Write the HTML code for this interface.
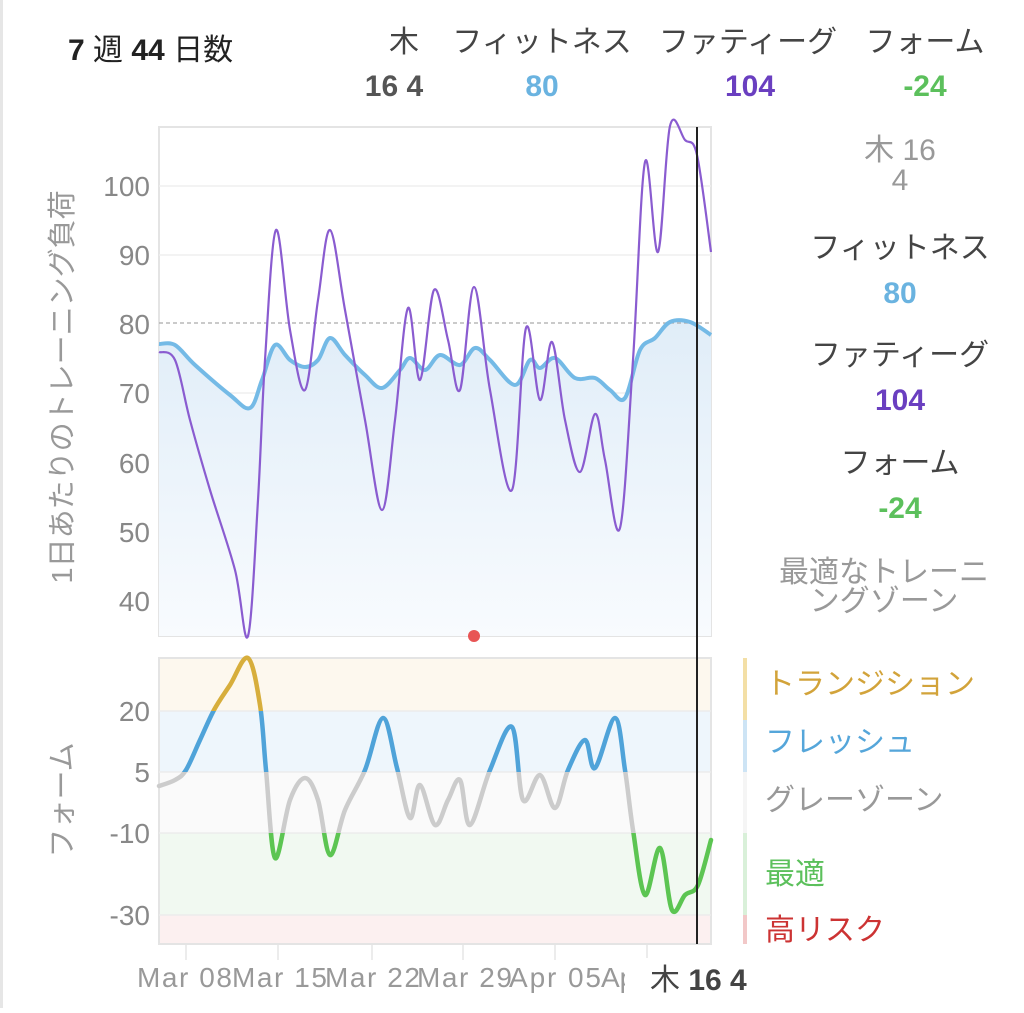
<!DOCTYPE html>
<html><head><meta charset="utf-8"><style>
body{margin:0;background:#fff;width:1024px;height:1008px;overflow:hidden;font-family:"Liberation Sans","Noto Sans CJK JP",sans-serif}
svg text{font-family:"Liberation Sans","Noto Sans CJK JP",sans-serif}
</style></head><body>
<svg id="s" width="1024" height="1008" xmlns="http://www.w3.org/2000/svg">
<rect x="0" y="0" width="3" height="1008" fill="#e6e6e6"/>
<text x="68" y="60" font-size="30" fill="#222"><tspan font-weight="bold">7</tspan> 週 <tspan font-weight="bold">44</tspan> 日数</text>
<g font-size="30" text-anchor="middle">
<text x="404" y="52" fill="#444">木</text><text x="394" y="96" fill="#555" font-weight="bold">16 4</text>
<text x="542" y="52" fill="#444">フィットネス</text><text x="542" y="96" fill="#6ab3e0" font-weight="bold">80</text>
<text x="748" y="52" fill="#444">ファティーグ</text><text x="750" y="96" fill="#6a3fc0" font-weight="bold">104</text>
<text x="925" y="52" fill="#444">フォーム</text><text x="925" y="96" fill="#5cc05c" font-weight="bold">-24</text>
</g>
<defs><linearGradient id="g" x1="0" y1="0" x2="0" y2="1"><stop offset="0" stop-color="#e0edf8"/><stop offset="1" stop-color="#f8fbfe"/></linearGradient>
<clipPath id="cY"><rect x="0" y="600" width="1024" height="111"/></clipPath>
<clipPath id="cB"><rect x="0" y="711" width="1024" height="61"/></clipPath>
<clipPath id="cG"><rect x="0" y="772" width="1024" height="61"/></clipPath>
<clipPath id="cN"><rect x="0" y="833" width="1024" height="120"/></clipPath>
</defs>
<rect x="159" y="127" width="552" height="509" fill="#fff" stroke="#e4e4e4" stroke-width="2"/>
<g stroke="#efefef" stroke-width="1.5">
<line x1="159" x2="711" y1="186" y2="186"/><line x1="159" x2="711" y1="255" y2="255"/><line x1="159" x2="711" y1="393" y2="393"/><line x1="159" x2="711" y1="463" y2="463"/><line x1="159" x2="711" y1="532" y2="532"/><line x1="159" x2="711" y1="601" y2="601"/>
</g>
<g font-size="28" fill="#888" text-anchor="end">
<text x="150" y="196">100</text><text x="150" y="265">90</text><text x="150" y="334">80</text><text x="150" y="403">70</text><text x="150" y="473">60</text><text x="150" y="542">50</text><text x="150" y="611">40</text>
</g>
<text transform="translate(72,387) rotate(-90)" font-size="29" fill="#999" text-anchor="middle">1日あたりのトレーニング負荷</text>
<path id="fitA" fill="url(#g)"/>
<line x1="159" x2="711" y1="323" y2="323" stroke="#aaa" stroke-width="1.2" stroke-dasharray="4,3"/>
<path id="fit" fill="none" stroke="#74bae6" stroke-width="4"/>
<path id="fat" fill="none" stroke="#8a5cd0" stroke-width="2.2"/>
<circle cx="474" cy="636" r="6" fill="#e85555"/>
<rect x="159" y="658" width="552" height="53" fill="#fdf8ee"/>
<rect x="159" y="711" width="552" height="61" fill="#eef6fc"/>
<rect x="159" y="772" width="552" height="61" fill="#fafafa"/>
<rect x="159" y="833" width="552" height="82" fill="#f1f9f1"/>
<rect x="159" y="915" width="552" height="29" fill="#fcf0f0"/>
<rect x="159" y="658" width="552" height="286" fill="none" stroke="#e4e4e4" stroke-width="2"/>
<g stroke="#ececec" stroke-width="1.5"><line x1="159" x2="711" y1="711" y2="711"/><line x1="159" x2="711" y1="772" y2="772"/><line x1="159" x2="711" y1="833" y2="833"/><line x1="159" x2="711" y1="915" y2="915"/></g>
<g font-size="28" fill="#888" text-anchor="end">
<text x="150" y="721">20</text><text x="150" y="782">5</text><text x="150" y="843">-10</text><text x="150" y="925">-30</text>
</g>
<text transform="translate(72,800) rotate(-90)" font-size="29" fill="#999" text-anchor="middle">フォーム</text>
<g id="form" fill="none" stroke-width="4.5" stroke-linecap="round"></g>
<g stroke="#e6e6e6" stroke-width="1.5"><line x1="186" x2="186" y1="945" y2="960"/><line x1="278" x2="278" y1="945" y2="960"/><line x1="372" x2="372" y1="945" y2="960"/><line x1="463" x2="463" y1="945" y2="960"/><line x1="555" x2="555" y1="945" y2="960"/><line x1="647" x2="647" y1="945" y2="960"/></g>
<g font-size="28" fill="#999" textLength="95">
<text x="137" y="987" textLength="95">Mar 08</text><text x="232" y="987" textLength="95">Mar 15</text><text x="325" y="987" textLength="95">Mar 22</text><text x="417" y="987" textLength="95">Mar 29</text><text x="509" y="987" textLength="92">Apr 05</text><text x="601" y="987">Ap</text>
<rect x="625" y="958" width="25" height="45" fill="#fff"/>
</g>
<text x="650" y="990" font-size="30" fill="#444">木 <tspan font-weight="bold">16 4</tspan></text>
<line x1="697" x2="697" y1="127" y2="944" stroke="#222" stroke-width="2"/>
<g font-size="30" text-anchor="middle">
<text x="900" y="160" fill="#999">木 16</text><text x="900" y="190" fill="#999">4</text>
<text x="900" y="258" fill="#444">フィットネス</text><text x="900" y="303" fill="#6ab3e0" font-weight="bold">80</text>
<text x="900" y="365" fill="#444">ファティーグ</text><text x="900" y="410" fill="#6a3fc0" font-weight="bold">104</text>
<text x="900" y="473" fill="#444">フォーム</text><text x="900" y="518" fill="#5cc05c" font-weight="bold">-24</text>
<text x="884" y="582" fill="#999">最適なトレーニ</text><text x="884" y="611" fill="#999">ングゾーン</text>
</g>
<rect x="743" y="658" width="4" height="62" fill="#f3dfa6"/>
<rect x="743" y="720" width="4" height="52" fill="#cde4f5"/>
<rect x="743" y="772" width="4" height="61" fill="#f5f5f5"/>
<rect x="743" y="833" width="4" height="82" fill="#d9f0d9"/>
<rect x="743" y="915" width="4" height="29" fill="#f2c8c8"/>
<g font-size="30">
<text x="765" y="694" fill="#d2a33a">トランジション</text>
<text x="765" y="752" fill="#55a6da">フレッシュ</text>
<text x="765" y="810" fill="#999">グレーゾーン</text>
<text x="765" y="884" fill="#5cc05c">最適</text>
<text x="765" y="940" fill="#cc3333">高リスク</text>
</g>
</svg>
<script>
function cr(p){let d="M"+p[0][0]+","+p[0][1];for(let i=0;i<p.length-1;i++){const a=p[i-1]||p[i],b=p[i],c=p[i+1],e=p[i+2]||c;
const t=6;d+=" C"+(b[0]+(c[0]-a[0])/t).toFixed(1)+","+(b[1]+(c[1]-a[1])/t).toFixed(1)+" "+(c[0]-(e[0]-b[0])/t).toFixed(1)+","+(c[1]-(e[1]-b[1])/t).toFixed(1)+" "+c[0]+","+c[1];}return d;}
const fit=[[159,344],[175,345],[195,365],[230,395],[250,408],[262,380],[275,345],[290,360],[305,367],[318,360],[330,338],[345,355],[365,375],[382,388],[400,370],[410,358],[425,370],[440,355],[460,365],[475,348],[490,360],[515,385],[530,360],[540,368],[555,358],[575,378],[595,378],[610,390],[625,398],[640,350],[655,338],[670,322],[690,322],[711,335]];
const fat=[[159,352],[175,360],[190,420],[210,490],[235,570],[248,636],[258,500],[265,360],[276,230],[290,330],[305,390],[318,300],[330,230],[345,310],[365,420],[382,510],[395,420],[408,308],[420,380],[434,290],[448,340],[460,390],[474,287],[490,390],[512,490],[526,328],[540,400],[552,342],[565,420],[580,472],[595,414],[605,460],[620,528],[633,360],[645,162],[658,252],[670,126],[685,140],[697,155],[711,252]];
const form=[[159,786],[175,780],[186,770],[200,740],[214,710],[230,685],[248,658],[260,705],[266,770],[275,858],[290,800],[305,778],[318,800],[330,855],[345,810],[365,770],[383,718],[397,768],[410,818],[420,785],[435,825],[448,800],[460,780],[470,825],[490,770],[512,727],[523,800],[540,775],[555,808],[568,770],[585,740],[595,768],[615,718],[625,770],[633,830],[645,895],[660,848],[672,910],[685,895],[698,885],[711,840]];
const fp=cr(fit);
document.getElementById("fit").setAttribute("d",fp);
document.getElementById("fitA").setAttribute("d",fp+" L711,636 L159,636 Z");
document.getElementById("fat").setAttribute("d",cr(fat));
const fd=cr(form);let h="";
[["cY","#d7ae3c"],["cB","#4fa3d9"],["cG","#cccccc"],["cN","#5cc552"]].forEach(([c,col])=>{h+='<path clip-path="url(#'+c+')" stroke="'+col+'" d="'+fd+'"/>';});
document.getElementById("form").innerHTML=h;
</script>
</body></html>
